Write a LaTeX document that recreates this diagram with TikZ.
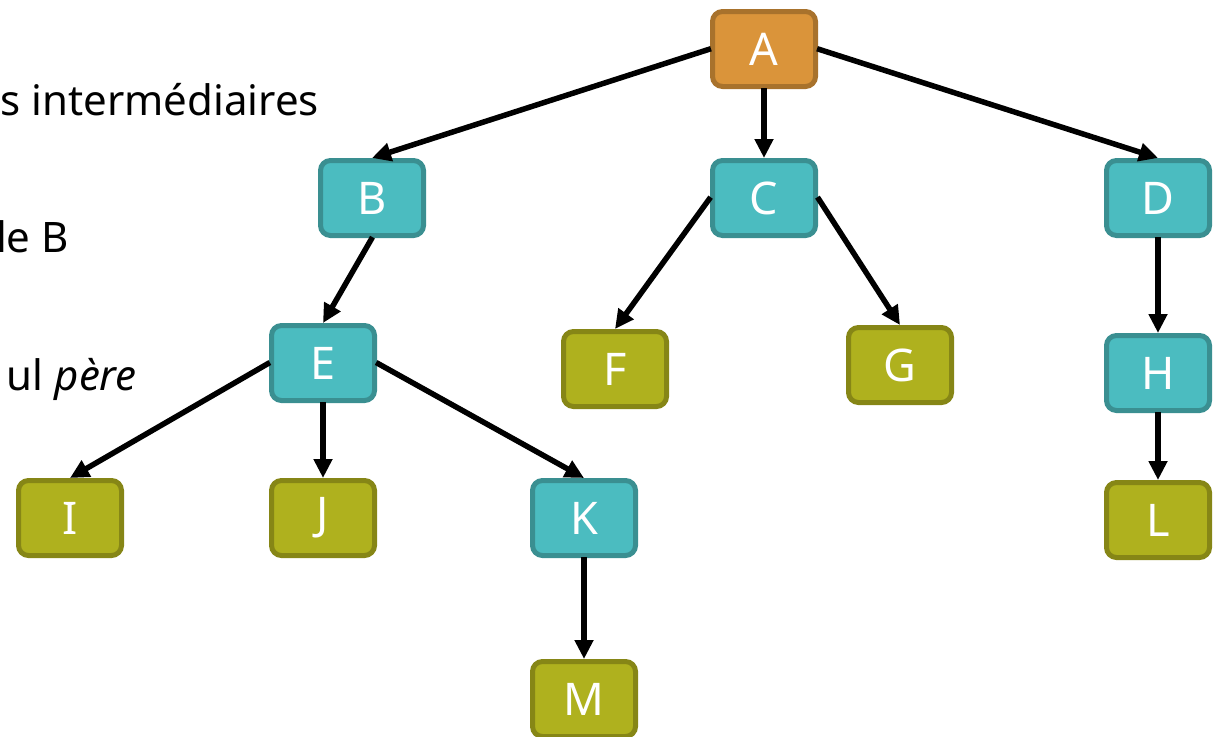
\documentclass[tikz,border=0pt]{standalone}
\usepackage{fontspec}
\setmainfont{Noto Sans}
\usetikzlibrary{arrows.meta}
\definecolor{rootfill}{HTML}{DA943A}
\definecolor{rootline}{HTML}{A8722C}
\definecolor{innerfill}{HTML}{4BBCC0}
\definecolor{innerline}{HTML}{3A8F91}
\definecolor{leaffill}{HTML}{AFB11E}
\definecolor{leafline}{HTML}{868616}
\tikzset{
  treenode/.style={rectangle, rounded corners=10pt, line width=5pt,
    minimum width=103pt, minimum height=75pt, inner sep=0pt,
    text=white, font=\fontsize{45}{54}\selectfont},
  rootnode/.style={treenode, fill=rootfill, draw=rootline},
  innernode/.style={treenode, fill=innerfill, draw=innerline},
  leafnode/.style={treenode, fill=leaffill, draw=leafline},
  link/.style={line width=5.5pt, -{Triangle[length=19pt,width=18pt]}, shorten <=-1pt},
  sidetext/.style={anchor=base east, inner sep=0pt, font=\fontsize{42}{50}\selectfont}
}
\begin{document}
\begin{tikzpicture}[x=1pt,y=-1pt]
\useasboundingbox (0,0) rectangle (1217,736);
\clip (0,0) rectangle (1217,736);

% text fragments at the left border
\node[sidetext] (t1) at (319,115) {s intermédiaires};
\node[sidetext] (t2) at (69,252) {le B};
\node[sidetext] (t3) at (137,390) {ul \textit{père}};

% tree nodes
\node[rootnode]  (A) at (764,49)  {A};
\node[innernode] (B) at (372,198) {B};
\node[innernode] (C) at (764,198) {C};
\node[innernode] (D) at (1158,198) {D};
\node[innernode] (E) at (323,363) {E};
\node[leafnode]  (F) at (615,369) {F};
\node[leafnode]  (G) at (900,365) {G};
\node[innernode] (H) at (1158,373) {H};
\node[leafnode]  (I) at (70,518)  {I};
\node[leafnode]  (J) at (323,518) {J};
\node[innernode] (K) at (584,518) {K};
\node[leafnode]  (L) at (1158,520) {L};
\node[leafnode]  (M) at (584,699) {M};

% edges
\draw[link] (A.west) -- (B.north);
\draw[link] (A.south) -- (C.north);
\draw[link] (A.east) -- (D.north);
\draw[link] (B.south) -- (E.north);
\draw[link] (C.west) -- (F.north);
\draw[link] (C.east) -- (G.north);
\draw[link] (D.south) -- (H.north);
\draw[link] (E.west) -- (I.north);
\draw[link] (E.south) -- (J.north);
\draw[link] (E.east) -- (K.north);
\draw[link] (K.south) -- (M.north);
\draw[link] (H.south) -- (L.north);
\end{tikzpicture}
\end{document}
